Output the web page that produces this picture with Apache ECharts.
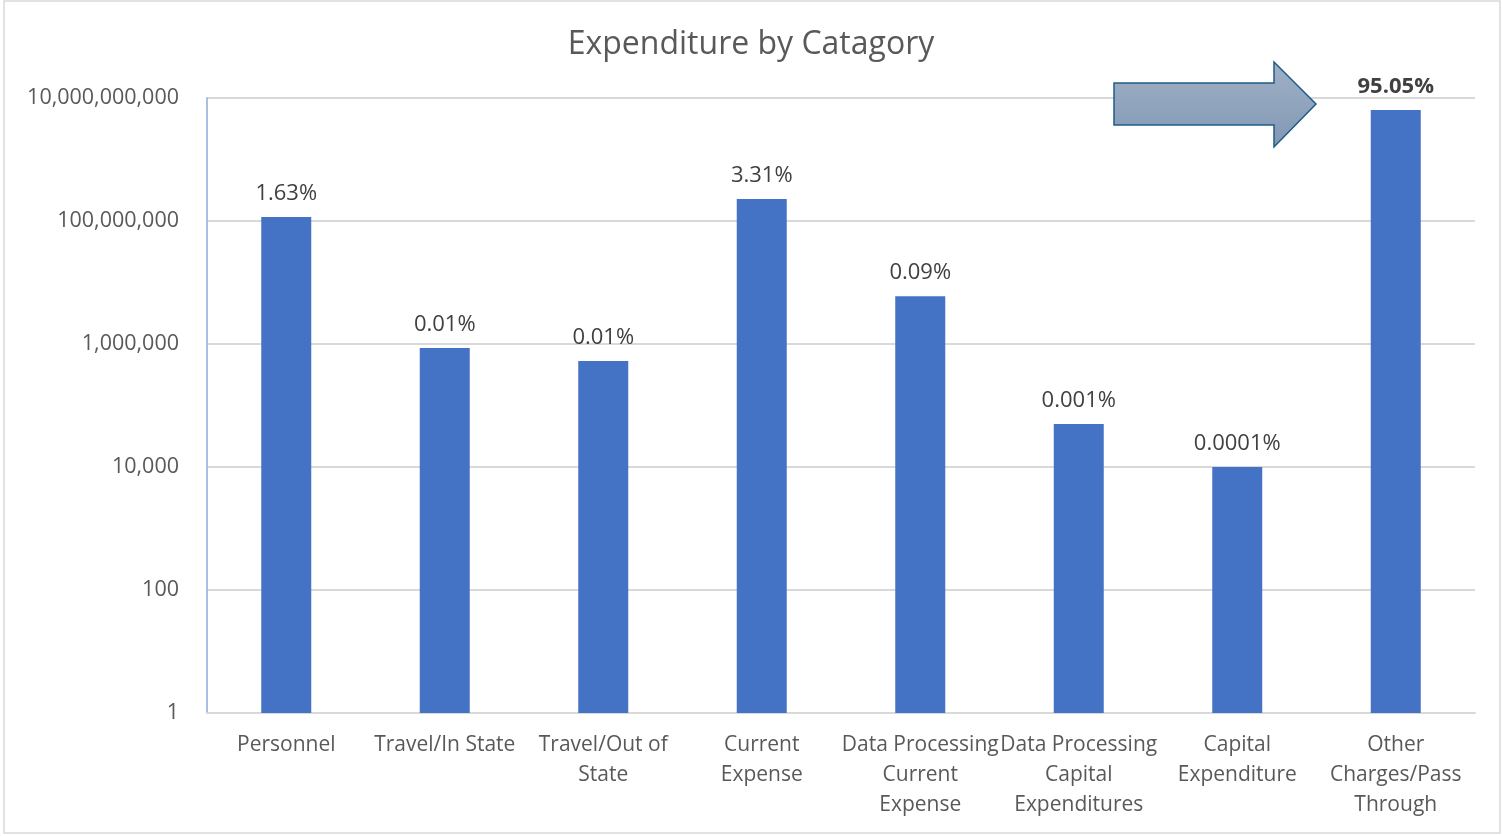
<!DOCTYPE html>
<html>
<head>
<meta charset="utf-8">
<title>Expenditure by Catagory</title>
<script src="https://cdn.jsdelivr.net/npm/echarts@6/dist/echarts.min.js"></script>
<style>
    html, body { margin: 0; padding: 0; background: #fff; }
    #chart { width: 1502px; height: 836px; }
</style>
</head>
<body>
<div id="chart"></div>
<script>
// data
const categories = [
    'Personnel',
    'Travel/In State',
    'Travel/Out of\nState',
    'Current\nExpense',
    'Data Processing\nCurrent\nExpense',
    'Data Processing\nCapital\nExpenditures',
    'Capital\nExpenditure',
    'Other\nCharges/Pass\nThrough'
];
const amounts = [116000000, 860000, 530000, 228000000, 6000000, 50000, 10000, 6400000000];
const shareLabels = ['1.63%', '0.01%', '0.01%', '3.31%', '0.09%', '0.001%', '0.0001%', '95.05%'];

const FONT = '"Open Sans", "Noto Sans", sans-serif';

let myChart = echarts.init(document.getElementById('chart'));

let option = {
    backgroundColor: '#fff',
    animation: false,
    title: {
        text: 'Expenditure by Catagory',
        left: 'center',
        top: 24,
        textStyle: {
            color: '#595959',
            fontFamily: FONT,
            fontSize: 32,
            fontWeight: 'normal'
        }
    },
    grid: {
        left: 207,
        right: 27,
        top: 98,
        bottom: 123
    },
    xAxis: {
        type: 'category',
        data: categories,
        axisTick: { show: false },
        axisLine: { lineStyle: { color: '#d9d9d9', width: 2 } },
        axisLabel: {
            interval: 0,
            color: '#595959',
            fontFamily: FONT,
            fontSize: 21,
            lineHeight: 30,
            margin: 17
        }
    },
    yAxis: {
        type: 'log',
        logBase: 100,
        min: 1,
        max: 10000000000,
        axisLine: { show: true, lineStyle: { color: '#8faadc', width: 1.5 } },
        axisTick: { show: false },
        splitLine: { lineStyle: { color: '#d9d9d9', width: 2 } },
        axisLabel: {
            color: '#595959',
            fontFamily: FONT,
            fontSize: 21.5,
            margin: 28,
            formatter: (v) => Math.round(v).toLocaleString('en-US')
        }
    },
    series: [{
        type: 'bar',
        data: amounts.map((v, i) => ({
            value: v,
            label: i === amounts.length - 1 ? { fontWeight: 'bold' } : {}
        })),
        barWidth: 50,
        itemStyle: { color: '#4472c4' },
        label: {
            show: true,
            position: 'top',
            distance: 12,
            color: '#404040',
            fontFamily: FONT,
            fontSize: 22,
            formatter: (p) => shareLabels[p.dataIndex]
        }
    }],
    graphic: [
        {
            // chart border
            type: 'rect',
            shape: { x: 4, y: 1, width: 1496, height: 832 },
            style: { fill: 'none', stroke: '#d9d9d9', lineWidth: 1.5 },
            silent: true
        },
        {
            // callout arrow
            type: 'polygon',
            shape: {
                points: [[1114, 83], [1274, 83], [1274, 62], [1316, 104], [1274, 147], [1274, 125], [1114, 125]]
            },
            style: {
                fill: new echarts.graphic.LinearGradient(0, 0, 0, 1, [
                    { offset: 0, color: '#a0b1c7' },
                    { offset: 1, color: '#8097b3' }
                ]),
                stroke: '#1f5c85',
                lineWidth: 1.5
            },
            z: 10
        }
    ]
};

myChart.setOption(option);

window.addEventListener('resize', function () {
    myChart.resize();
});
</script>
</body>
</html>
